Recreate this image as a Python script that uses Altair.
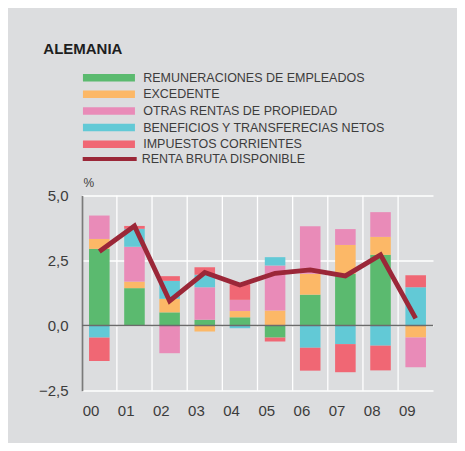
import altair as alt
import pandas as pd

years = ["00", "01", "02", "03", "04", "05", "06", "07", "08", "09"]
series = [
    "REMUNERACIONES DE EMPLEADOS",
    "EXCEDENTE",
    "OTRAS RENTAS DE PROPIEDAD",
    "BENEFICIOS Y TRANSFERECIAS NETOS",
    "IMPUESTOS CORRIENTES",
]
remuneraciones = [2.95, 1.44, 0.51, 0.23, 0.32, -0.46, 1.19, 1.99, 2.72, 0.0]
excedente = [0.38, 0.25, 0.52, -0.23, 0.24, 0.58, 0.80, 1.11, 0.69, -0.46]
otras_rentas = [0.90, 1.34, -1.06, 1.24, 0.43, 1.73, 1.83, 0.61, 0.95, -1.14]
beneficios = [-0.46, 0.69, 0.69, 0.48, -0.10, 0.32, -0.85, -0.71, -0.77, 1.47]
impuestos = [-0.90, 0.11, 0.18, 0.29, 0.60, -0.15, -0.88, -1.08, -0.95, 0.47]
renta_bruta = [2.85, 3.83, 0.95, 2.04, 1.56, 2.01, 2.14, 1.91, 2.72, 0.28]
line_name = "RENTA BRUTA DISPONIBLE"

colors = ["#5bba6f", "#fcb867", "#e98bb8", "#62c9d6", "#f06774"]
line_color = "#9b2738"
bg = "#dcdddf"
font = "Liberation Sans"
text_color = "#3c3c3c"

rows = []
for i, vals in enumerate([remuneraciones, excedente, otras_rentas, beneficios, impuestos]):
    for y, v in zip(years, vals):
        rows.append({"year": y, "serie": series[i], "idx": i, "value": v})
bars_df = pd.DataFrame(rows)
line_df = pd.DataFrame({"year": years, "value": renta_bruta, "serie": line_name})
grid_df = pd.DataFrame({"year": years[1:]})
zero_df = pd.DataFrame({"v": [0.0]})

W, H = 351, 195.2

x_scale = alt.Scale(domain=years, paddingInner=0.415, paddingOuter=0.2)
y_scale = alt.Scale(domain=[-2.5, 5.0], nice=False, zero=False)

x_enc = alt.X(
    "year:N",
    scale=x_scale,
    axis=alt.Axis(
        title=None, labelAngle=0, domain=False, ticks=False, grid=False,
        labelPadding=20, labelFontSize=15, labelFont=font, labelColor=text_color,
    ),
)
y_axis = alt.Axis(
    values=[-2.5, 0, 2.5, 5.0],
    labelExpr="replace(format(datum.value, '.1f'), '.', ',')",
    title="%", titleAngle=0, titleX=1, titleY=-9, titleAlign="left",
    titleBaseline="alphabetic", titleFontSize=12, titleFontWeight="normal",
    titleFont=font, titleColor=text_color,
    labelFontSize=15, labelFont=font, labelColor=text_color, labelPadding=14,
    ticks=False, domainColor="#7a7a7a", domainWidth=1.7,
    grid=True, gridColor="white", gridWidth=1.3, gridOpacity=1,
)

grid = alt.Chart(grid_df).mark_rule(color="white", strokeWidth=1.3, xOffset=-7.3).encode(
    x=alt.X("year:N", scale=x_scale, bandPosition=0),
    y=alt.datum(5.0),
    y2=alt.datum(-2.5),
)

bars = alt.Chart(bars_df).mark_bar(opacity=1).encode(
    x=x_enc,
    y=alt.Y("value:Q", scale=y_scale, axis=y_axis, stack="zero"),
    color=alt.Color(
        "serie:N",
        scale=alt.Scale(domain=series, range=colors),
        legend=alt.Legend(
            orient="none", legendX=20.7, legendY=-124, title=None,
            symbolType="M-5.2,-0.75H5.2V0.75H-5.2Z", symbolSize=100,
            symbolStrokeWidth=0, symbolOpacity=1, labelOffset=28, rowPadding=3.6,
            labelFontSize=12.5, labelFont=font, labelColor=text_color,
            labelLimit=400, padding=0,
        ),
    ),
    order=alt.Order("idx:Q", sort="ascending"),
)

zero = alt.Chart(zero_df).mark_rule(color="#6b6b6b", strokeWidth=1.5).encode(
    y=alt.Y("v:Q", scale=y_scale)
)

line = alt.Chart(line_df).mark_line(strokeWidth=4.8, strokeJoin="miter").encode(
    x=alt.X("year:N", scale=x_scale),
    y=alt.Y("value:Q", scale=y_scale),
    stroke=alt.Stroke(
        "serie:N",
        scale=alt.Scale(domain=[line_name], range=[line_color]),
        legend=alt.Legend(
            orient="none", legendX=20.7, legendY=-124 + 5 * 16.1, title=None,
            symbolType="M-5.4,0H5.4", symbolSize=100, symbolStrokeWidth=4,
            symbolStrokeColor=line_color,
            labelOffset=25, labelFontSize=12.5, labelFont=font,
            labelColor=text_color, labelLimit=400, padding=0,
        ),
    ),
)

chart = (
    alt.layer(grid, bars, zero, line)
    .properties(
        width=W,
        height=H,
        autosize=alt.AutoSizeParams(type="none"),
        padding={"left": 74, "top": 187.5, "right": 24, "bottom": 52},
        background=bg,
        title=alt.TitleParams(
            "ALEMANIA", anchor="start", frame="group", fontSize=15,
            fontWeight="bold", font=font, color="#1e1e1e", dx=-38.7, dy=-14, offset=0,
        ),
    )
    .configure_view(stroke=None)
)

chart.save("out.html", embed_options={"renderer": "svg", "actions": False})
